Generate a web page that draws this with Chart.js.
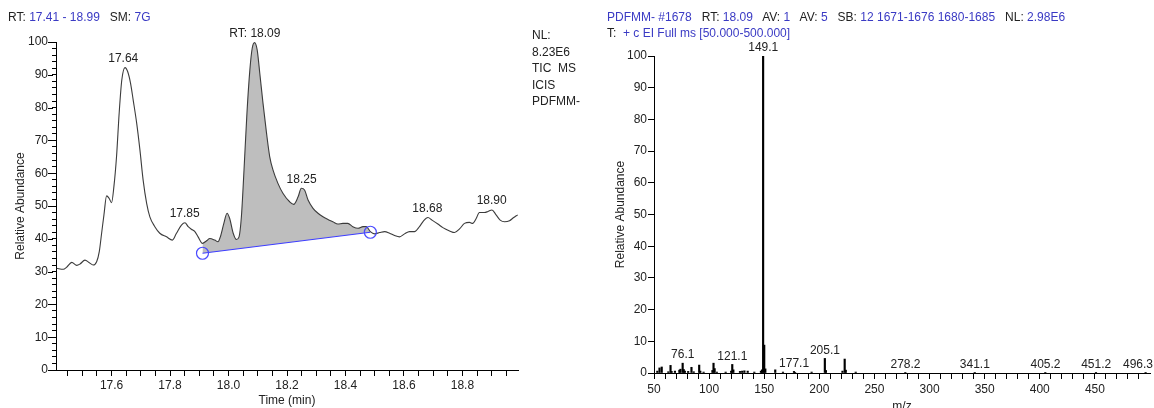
<!DOCTYPE html>
<html>
<head>
<meta charset="utf-8">
<script src="https://cdn.jsdelivr.net/npm/chart.js@4.4.1/dist/chart.umd.min.js"></script>
<style>
  body { margin: 0; width: 1154px; height: 408px; overflow: hidden; background: #fff;
         font-family: "Liberation Sans", Arial, sans-serif; }
  .txt { position: absolute; font-size: 12px; color: #222; white-space: pre; line-height: 16px; }
  .b { color: #3a3ac4; }
  #left { position: absolute; left: 0; top: 0; }
  #right { position: absolute; left: 600px; top: 0; }
</style>
</head>
<body>
<canvas id="left" width="600" height="408"></canvas>
<canvas id="right" width="554" height="414"></canvas>

<div class="txt" style="left:8px;top:9px">RT: <span class="b">17.41 - 18.99</span>   SM: <span class="b">7G</span></div>
<div class="txt" style="left:532px;top:27px;line-height:16.5px">NL:
8.23E6
TIC  MS
ICIS
PDFMM-</div>
<div class="txt" style="left:607px;top:9px"><span class="b">PDFMM- #1678</span>   RT: <span class="b">18.09</span>   AV: <span class="b">1</span>   AV: <span class="b">5</span>   SB: <span class="b">12 1671-1676 1680-1685</span>   NL: <span class="b">2.98E6</span></div>
<div class="txt" style="left:607px;top:25px">T:  <span class="b">+ c EI Full ms [50.000-500.000]</span></div>

<script>
// ---- chromatogram (TIC) ----
const rtTimes = [17.412, 17.435, 17.446, 17.464, 17.481, 17.492, 17.509, 17.524, 17.537, 17.549,
  17.558, 17.566, 17.574, 17.583, 17.592, 17.600, 17.608, 17.617, 17.626, 17.635,
  17.646, 17.655, 17.665, 17.674, 17.686, 17.697, 17.708, 17.720, 17.731, 17.748,
  17.765, 17.788, 17.808, 17.822, 17.839, 17.851, 17.862, 17.873, 17.885, 17.896,
  17.911, 17.925, 17.936, 17.953, 17.964, 17.972, 17.984, 17.995, 18.004, 18.016,
  18.027, 18.036, 18.044, 18.053, 18.063, 18.073, 18.081, 18.089, 18.098, 18.107,
  18.118, 18.130, 18.141, 18.152, 18.169, 18.186, 18.209, 18.223, 18.238, 18.249,
  18.260, 18.272, 18.289, 18.306, 18.323, 18.340, 18.357, 18.374, 18.391, 18.408,
  18.425, 18.443, 18.460, 18.471, 18.485, 18.499, 18.517, 18.534, 18.551, 18.568,
  18.585, 18.602, 18.619, 18.636, 18.653, 18.667, 18.682, 18.696, 18.716, 18.733,
  18.756, 18.773, 18.790, 18.807, 18.824, 18.835, 18.847, 18.858, 18.875, 18.887,
  18.901, 18.915, 18.929, 18.944, 18.961, 18.974, 18.989];
const ticAbund = [31.0, 30.7, 31.3, 32.8, 31.9, 32.3, 33.5, 32.7, 32.0, 33.0,
  36.1, 41.7, 47.3, 53.1, 52.3, 51.0, 55.9, 65.0, 78.3, 88.4,
  92.2, 91.0, 87.4, 82.3, 75.2, 67.1, 57.9, 50.8, 46.7, 43.7,
  41.7, 40.6, 39.6, 41.7, 44.2, 44.9, 43.7, 42.9, 42.2, 40.6,
  38.6, 39.4, 40.1, 39.6, 39.1, 40.6, 44.7, 47.8, 46.2, 41.7,
  39.8, 40.6, 46.7, 61.0, 78.3, 91.5, 98.1, 99.8, 97.6, 90.4,
  81.3, 72.2, 65.0, 61.0, 56.9, 53.9, 51.3, 50.5, 52.8, 55.4,
  54.9, 51.8, 49.3, 47.8, 46.7, 45.9, 45.2, 44.5, 44.7, 44.7,
  43.7, 43.2, 43.7, 43.7, 42.2, 41.5, 41.9, 42.2, 41.7, 41.0,
  40.6, 41.5, 42.2, 42.2, 43.7, 45.5, 46.5, 45.7, 44.5, 43.4,
  42.4, 41.9, 43.0, 44.7, 45.0, 44.7, 46.2, 48.0, 48.0, 48.3,
  48.8, 47.3, 45.7, 45.2, 45.5, 46.4, 47.3];
// integration baseline (start, end)
const baseTimes = [17.911, 18.485];
const baseLevels = [35.6, 42.0];
// peak labels
const rtPeaks = [17.64, 18.09, 17.85, 18.25, 18.68, 18.90];
const rtPeakText = ['17.64', 'RT: 18.09', '17.85', '18.25', '18.68', '18.90'];
const timeTicks = [];
for (let k = 0; k <= 30; k++) timeTicks.push(+(17.45 + k * 0.05).toFixed(2));

// ---- mass spectrum ----
const mzValues = [53, 55, 57, 63, 65, 66, 69, 73, 74, 76, 77, 78, 81, 84, 86, 91, 92, 95,
  103, 104, 105, 107, 115, 120, 121, 122, 128, 130, 132, 135, 141, 147, 148, 149, 150, 151,
  160, 167, 177, 178, 193, 205, 206, 221, 223, 224, 233, 278, 341, 405, 451, 496];
const mzIntens = [0.6, 1.6, 1.9, 0.4, 2.4, 0.5, 0.6, 0.9, 1.2, 3.1, 1.1, 0.6, 0.5, 1.8, 0.4, 2.5, 0.6, 0.3,
  0.8, 3.1, 1.4, 0.3, 0.3, 0.6, 2.7, 1.0, 0.5, 0.6, 0.7, 0.6, 0.3, 0.6, 1.0, 100, 8.8, 1.3,
  1.0, 0.3, 0.5, 0.2, 0.3, 4.6, 0.8, 0.6, 4.4, 0.9, 0.3, 0.2, 0.2, 0.2, 0.2, 0.2];
const mzLabels = [149.1, 76.1, 121.1, 177.1, 205.1, 278.2, 341.1, 405.2, 451.2, 496.3];
const mzTicks = [];
for (let m = 50; m <= 490; m += 10) mzTicks.push(m);

Chart.defaults.font.family = '"Liberation Sans", Arial, sans-serif';
Chart.defaults.font.size = 12;
Chart.defaults.color = '#222';
Chart.defaults.animation = false;

const trace = rtTimes.map((t, i) => ({ x: t, y: ticAbund[i] }));
const area = trace.filter(p => p.x >= baseTimes[0] - 1e-6 && p.x <= baseTimes[1] + 1e-6);
const baseline = baseTimes.map((t, i) => ({ x: t, y: baseLevels[i] }));

function peakLevel(t) {
  let best = 0;
  trace.forEach(p => { if (Math.abs(p.x - t) <= 0.015 && p.y > best) best = p.y; });
  return best;
}

const textLabels = {
  id: 'textLabels',
  afterDatasetsDraw(chart, args, opts) {
    const { ctx, scales: { x, y } } = chart;
    ctx.save();
    ctx.font = '12px "Liberation Sans", Arial, sans-serif';
    ctx.fillStyle = '#222';
    ctx.textAlign = 'center';
    ctx.textBaseline = 'bottom';
    opts.items.forEach(it => {
      const half = ctx.measureText(it.text).width / 2;
      // keep labels inside the canvas, like the instrument software does
      const px = Math.min(x.getPixelForValue(it.x), chart.width - half - 1);
      ctx.fillText(it.text, px, y.getPixelForValue(it.y) - opts.gap);
    });
    // longer marks on labelled y ticks
    if (opts.majorY) {
      ctx.strokeStyle = '#000';
      ctx.lineWidth = 1;
      y.ticks.forEach(tk => {
        if (tk.value % opts.majorY === 0) {
          const py = Math.round(y.getPixelForValue(tk.value)) + 0.5;
          ctx.beginPath();
          ctx.moveTo(y.right - 8, py);
          ctx.lineTo(y.right - 3, py);
          ctx.stroke();
        }
      });
    }
    ctx.restore();
  }
};

new Chart(document.getElementById('left'), {
  type: 'line',
  data: {
    datasets: [
      { data: area, fill: 1, backgroundColor: '#bebebe', borderWidth: 0, pointRadius: 0,
        cubicInterpolationMode: 'monotone', order: 3 },
      { data: baseline, borderColor: '#3d3dff', borderWidth: 1.2, pointRadius: 6,
        pointBorderColor: '#4a4aff', pointBackgroundColor: 'rgba(0,0,0,0)', pointBorderWidth: 1.2,
        fill: false, order: 1 },
      { data: trace, borderColor: '#3c3c3c', borderWidth: 1.1, pointRadius: 0, fill: false,
        cubicInterpolationMode: 'monotone', order: 2 }
    ]
  },
  options: {
    responsive: false,
    layout: { padding: { left: 0, top: 42, right: 82, bottom: 0 } },
    plugins: {
      legend: { display: false }, tooltip: { enabled: false },
      textLabels: { gap: 3, majorY: 10,
        items: rtPeaks.map((t, i) => ({ x: t, y: peakLevel(t), text: rtPeakText[i] })) }
    },
    scales: {
      x: {
        type: 'linear', min: 17.41, max: 18.99,
        afterBuildTicks: s => { s.ticks = timeTicks.map(v => ({ value: v })); },
        afterFit: s => { s.height = 38; },
        grid: { drawOnChartArea: false, drawTicks: true, tickLength: 6, color: '#000' },
        border: { display: true, color: '#000', width: 1 },
        ticks: { autoSkip: false, maxRotation: 0, padding: 2,
          callback: v => (Math.abs(v * 5 - Math.round(v * 5)) < 1e-6 ? v.toFixed(1) : '') },
        title: { display: true, text: 'Time (min)', padding: { top: 0, bottom: 0 } }
      },
      y: {
        min: 0, max: 100,
        afterBuildTicks: s => { const a = []; for (let v = 0; v <= 100; v += 2) a.push({ value: v }); s.ticks = a; },
        afterFit: s => { s.width = 56; },
        grid: { drawOnChartArea: false, drawTicks: true, tickLength: 4, color: '#000' },
        border: { display: true, color: '#000', width: 1 },
        ticks: { autoSkip: false, padding: 4, callback: v => (v % 10 === 0 ? v : '') },
        title: { display: true, text: 'Relative Abundance', padding: { top: 13, bottom: 0 } }
      }
    }
  },
  plugins: [textLabels]
});

const bars = mzValues.map((m, i) => ({ x: m, y: mzIntens[i] }));
function barLevel(m) {
  const i = mzValues.indexOf(Math.round(m));
  return i >= 0 ? mzIntens[i] : 0;
}

new Chart(document.getElementById('right'), {
  type: 'bar',
  data: {
    datasets: [{ data: bars, backgroundColor: '#000', barThickness: 1.5, borderWidth: 0 }]
  },
  options: {
    responsive: false,
    layout: { padding: { left: 0, top: 56, right: 4, bottom: 0 } },
    plugins: {
      legend: { display: false }, tooltip: { enabled: false },
      textLabels: { gap: 2,
        items: mzLabels.map(m => ({ x: m, y: barLevel(m), text: m.toFixed(1) })) }
    },
    scales: {
      x: {
        type: 'linear', min: 50, max: 500, offset: false,
        afterBuildTicks: s => { s.ticks = mzTicks.map(v => ({ value: v })); },
        afterFit: s => { s.height = 41; },
        grid: { drawOnChartArea: false, drawTicks: true, tickLength: 6, color: '#000', offset: false },
        border: { display: true, color: '#000', width: 1 },
        ticks: { autoSkip: false, maxRotation: 0, padding: 3,
          callback: v => (v % 50 === 0 ? v : '') },
        title: { display: true, text: 'm/z', padding: { top: 0, bottom: 0 } }
      },
      y: {
        min: 0, max: 100,
        ticks: { stepSize: 10, padding: 1 },
        afterFit: s => { s.width = 54; },
        grid: { drawOnChartArea: false, drawTicks: true, tickLength: 6, color: '#000' },
        border: { display: true, color: '#000', width: 1 },
        title: { display: true, text: 'Relative Abundance', padding: { top: 13, bottom: 0 } }
      }
    }
  },
  plugins: [textLabels]
});
</script>
</body>
</html>
